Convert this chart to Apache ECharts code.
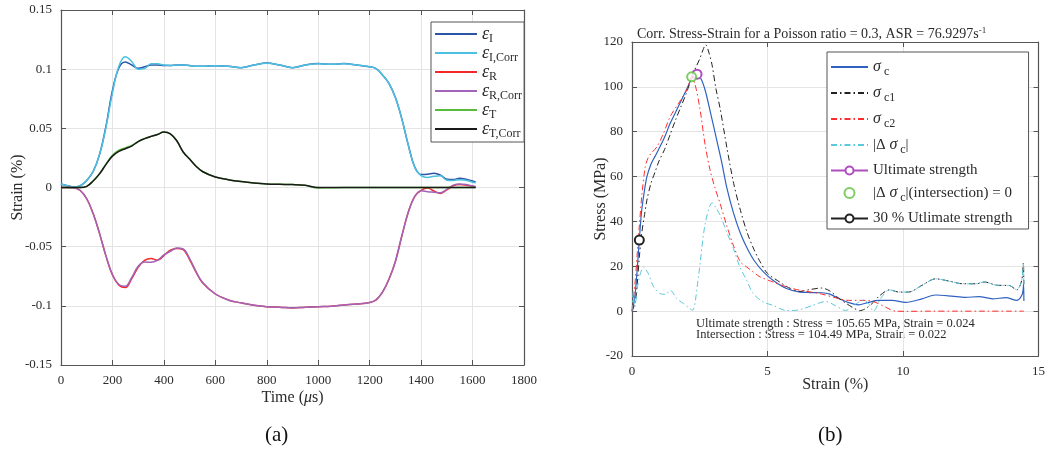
<!DOCTYPE html>
<html>
<head>
<meta charset="utf-8">
<script src="https://cdn.jsdelivr.net/npm/echarts@6/dist/echarts.min.js"></script>
<style>
  html, body { margin: 0; padding: 0; background: #fff; }
  #chart { width: 1048px; height: 453px; }
</style>
</head>
<body>
<div id="chart"></div>
<script>
// ---------- (a) incident / reflected / transmitted strain pulses ----------
const timeUs = [0,25,50,75,100,125,150,175,200,225,250,275,300,325,350,375,400,425,450,475,
  500,525,550,600,650,700,750,800,850,900,950,1000,1050,1100,1150,1200,
  1225,1250,1275,1300,1325,1350,1375,1400,1425,1450,1475,1500,1525,1550,1575,1600,1612];

const epsI = [0.0030,0.0015,0.0004,0.0015,0.0060,0.0135,0.0280,0.0520,0.0820,0.1010,
  0.1060,0.1035,0.1008,0.1020,0.1035,0.1035,0.1030,0.1030,0.1035,0.1035,
  0.1030,0.1025,0.1025,0.1028,0.1025,0.1013,0.1035,0.1052,0.1035,0.1013,0.1035,0.1047,0.1042,
  0.1047,0.1035,0.1020,
  0.1005,0.0950,0.0880,0.0760,0.0580,0.0360,0.0175,0.0110,
  0.0112,0.0120,0.0105,0.0070,0.0068,0.0078,0.0070,0.0055,0.0045];

const epsICorr = [0.0030,0.0015,0.0004,0.0015,0.0060,0.0135,0.0280,0.0510,0.0800,0.1025,
  0.1105,0.1065,0.1000,0.1005,0.1045,0.1045,0.1035,0.1032,0.1035,0.1035,
  0.1030,0.1025,0.1025,0.1028,0.1025,0.1013,0.1035,0.1050,0.1035,0.1013,0.1035,0.1046,0.1042,
  0.1046,0.1035,0.1020,
  0.1005,0.0950,0.0880,0.0760,0.0580,0.0360,0.0170,0.0100,
  0.0085,0.0095,0.0100,0.0062,0.0060,0.0066,0.0062,0.0045,0.0040];

const epsR = [0,0,-0.0003,-0.0025,-0.0095,-0.0220,-0.0390,-0.0580,-0.0740,-0.0825,
  -0.0845,-0.0770,-0.0675,-0.0615,-0.0600,-0.0615,-0.0575,-0.0530,-0.0515,-0.0525,
  -0.0610,-0.0715,-0.0805,-0.0900,-0.0950,-0.0975,-0.0995,-0.1007,-0.1012,-0.1018,-0.1012,-0.1007,-0.1003,
  -0.0993,-0.0985,-0.0972,
  -0.0950,-0.0885,-0.0775,-0.0625,-0.0410,-0.0210,-0.0075,-0.0025,
  -0.0005,-0.0030,-0.0050,-0.0020,0.0015,0.0025,0.0020,0.0010,0.0008];

const epsRCorr = [0,0,-0.0003,-0.0025,-0.0095,-0.0220,-0.0390,-0.0580,-0.0735,-0.0820,
  -0.0835,-0.0760,-0.0665,-0.0630,-0.0632,-0.0615,-0.0570,-0.0540,-0.0512,-0.0520,
  -0.0600,-0.0710,-0.0800,-0.0900,-0.0950,-0.0975,-0.0995,-0.1007,-0.1012,-0.1018,-0.1012,-0.1007,-0.1003,
  -0.0993,-0.0985,-0.0972,
  -0.0950,-0.0885,-0.0775,-0.0625,-0.0410,-0.0210,-0.0078,-0.0028,
  -0.0035,-0.0040,-0.0045,-0.0015,0.0020,0.0030,0.0025,0.0012,0.0005];

const epsT = [0,0,0,0,0.0010,0.0055,0.0118,0.0198,0.0272,0.0315,
  0.0335,0.0355,0.0388,0.0413,0.0432,0.0448,0.0468,0.0454,0.0395,0.0300,
  0.0240,0.0180,0.0135,0.0088,0.0066,0.0050,0.0038,0.0030,0.0027,0.0025,0.0018,-0.0004,-0.0002,
  0,0,0, 0,0,0,0,0,0,0,0, 0,0,0,0,0,0,0,0,0];

const epsTCorr = [0,0,0,0,0.0010,0.0055,0.0115,0.0195,0.0265,0.0305,
  0.0328,0.0350,0.0388,0.0413,0.0432,0.0448,0.0468,0.0454,0.0395,0.0300,
  0.0240,0.0180,0.0135,0.0088,0.0066,0.0050,0.0038,0.0030,0.0027,0.0025,0.0018,0.0000,-0.0001,
  0,0,0, 0,0,0,0,0,0,0,0, 0,0,0,0,0,0,0,0,0];

// ---------- (b) corrected stress-strain curves ----------
const strainC = [0,0.06,0.12,0.2,0.27,0.35,0.45,0.55,0.7,0.85,1.0,1.2,1.4,1.6,1.8,2.0,2.2,2.4,2.55,2.7,2.85,
  3.0,3.15,3.3,3.5,3.75,4.0,4.25,4.5,4.85,5.2,5.7,6.2,6.6,7.0,7.3,7.65,8.0,8.35,8.7,9.1,9.6,10.1,10.7,
  11.2,11.8,12.3,12.8,13.3,13.8,14.2,14.4,14.45,14.46];
const stressC = [0,3,8,20,31.7,44,53,60,65.5,69,72.5,77.5,83.5,88.5,93.5,98.5,103.5,105.65,103.5,98.5,91,
  83,75,67,55,43.6,34.7,28,22.7,17.5,13.8,10.1,8.5,8.3,8.2,7.6,5.5,3.8,2.8,3.8,4.8,4.8,3.9,5.5,
  7.2,6.7,6.1,6.5,5.5,6.0,4.8,7.5,12,4.5];

const strainC1 = [0,0.12,0.2,0.27,0.35,0.45,0.55,0.7,0.85,1.0,1.2,1.4,1.6,1.8,2.0,2.2,2.35,2.5,2.62,2.72,2.82,
  2.95,3.1,3.25,3.5,3.75,4.0,4.25,4.5,4.75,5.0,5.45,5.85,6.2,6.55,7.0,7.3,7.6,7.9,8.15,8.4,8.6,8.85,9.15,
  9.5,9.85,10.2,10.7,11.2,11.7,12.2,12.7,13.0,13.5,13.9,14.2,14.38,14.44,14.46];
const stressC1 = [0,4,13,24,34,42,49.5,57,62,67,72,78.5,85,91,97,104,108.5,112.5,116.5,118.8,116,
  110,99,90.5,73,57,45,35,27.5,21.5,16.8,13,10,8.8,9.6,10.3,9.0,6.0,3.5,1.6,0.2,1.0,3.3,7.0,
  9.5,8.5,8.5,11.5,14.4,13.4,12.2,12.2,13,11.5,11.5,9.5,13.7,21.4,12];

const strainC2 = [0,0.12,0.2,0.27,0.37,0.49,0.6,0.7,0.92,1.16,1.41,1.72,2.02,2.2,2.33,2.51,2.7,2.88,3.06,
  3.25,3.49,3.75,4.0,4.23,4.47,4.72,5.2,5.7,6.2,6.9,7.5,8.0,8.6,8.97,9.35,9.72,10.1,11,12,13,14,14.46];
const stressC2 = [0,13.8,27,38,52.5,64.4,68.5,70.3,73.3,79.2,86.8,92.7,98.6,104.49,101,90,74,63,55,
  48,38.4,29,22,19.7,17.5,15.3,13,10.8,9.3,7.9,6,4.8,4.8,4,1.8,0,-0.1,0,0,0,0,0];

const strainDiff = [0,0.05,0.1,0.25,0.43,0.6,0.8,1.04,1.25,1.41,1.65,1.9,2.14,2.24,2.45,2.7,2.96,3.1,3.25,
  3.49,3.74,3.98,4.23,4.47,4.84,5.2,5.7,5.95,6.3,6.65,7.15,7.5,7.88,8.24,8.55,8.73,8.91,9.17,9.5,9.85,
  10.2,10.7,11.2,11.7,12.2,12.7,13.0,13.5,13.9,14.2,14.38,14.44,14.46];
const stressDiff = [0,9,2,14,19.7,16.8,10.8,7.8,7.5,9.3,5.6,3.4,1.1,0.4,15.2,39,48.3,46,42.8,
  35.4,28,19.7,13.8,7.9,4.1,2.6,0.3,0.3,1,2.5,4.3,2.5,0.3,3,5,3.3,0,5.5,9.5,8.5,
  8.5,11.5,14.4,13.4,12.2,12.2,13,11.5,11.5,9.5,13.7,21.4,12];

const ultimatePt = [2.4, 105.65];     // strain (%), stress (MPa)
const intersectPt = [2.2, 104.49];
const thirtyPt = [0.27, 31.7];

const titleB = 'Corr. Stress-Strain for a Poisson ratio = 0.3, ASR = 76.9297s';

// ---------- helpers ----------
const FONT = "'Liberation Serif', 'DejaVu Serif', serif";
const INK = '#2b2b2b';
const zip = (xs, ys) => xs.map((x, i) => [x, ys[i]]);

function boxAxes(grid, xr, yr, xName, yName, xGap, yGap, xRich) {
  const tick = { show: true, inside: true, length: 5, lineStyle: { color: '#555', width: 1 } };
  const line = { show: true, onZero: false, lineStyle: { color: '#555', width: 1.2 } };
  const lbl = { color: INK, fontFamily: FONT, fontSize: 13 };
  const nameStyle = { color: INK, fontFamily: FONT, fontSize: 16, rich: xRich || {} };
  const split = { show: true, lineStyle: { color: '#e4e4e4', width: 1 } };
  const fmt = v => String(+v.toFixed(3));
  return {
    x: [
      { type: 'value', gridIndex: grid, min: xr[0], max: xr[1], interval: xr[2], position: 'bottom',
        axisLine: line, axisTick: tick, splitLine: split,
        axisLabel: Object.assign({ margin: 9, formatter: fmt }, lbl),
        name: xName, nameLocation: 'middle', nameGap: xGap, nameMoveOverlap: false, nameTextStyle: nameStyle },
      { type: 'value', gridIndex: grid, min: xr[0], max: xr[1], interval: xr[2], position: 'top',
        axisLine: line, axisTick: tick, splitLine: { show: false }, axisLabel: { show: false } }
    ],
    y: [
      { type: 'value', gridIndex: grid, min: yr[0], max: yr[1], interval: yr[2], position: 'left',
        axisLine: line, axisTick: tick, splitLine: split,
        axisLabel: Object.assign({ margin: 9, formatter: fmt }, lbl),
        name: yName, nameLocation: 'middle', nameGap: yGap, nameRotate: 90, nameMoveOverlap: false,
        nameTextStyle: { color: INK, fontFamily: FONT, fontSize: 16 } },
      { type: 'value', gridIndex: grid, min: yr[0], max: yr[1], interval: yr[2], position: 'right',
        axisLine: line, axisTick: tick, splitLine: { show: false }, axisLabel: { show: false } }
    ]
  };
}

const axA = boxAxes(0, [0, 1800, 200], [-0.15, 0.15, 0.05],
  '{n|Time (}{i|μ}{n|s)}', 'Strain (%)', 25, 35,
  { n: { fontFamily: FONT, fontSize: 16, color: INK }, i: { fontFamily: FONT, fontSize: 16, fontStyle: 'italic', color: INK } });
const axB = boxAxes(1, [0, 15, 5], [-20, 120, 20], 'Strain (%)', 'Stress (MPa)', 21, 23);

function lineA(name, data, color) {
  return { name, type: 'line', xAxisIndex: 0, yAxisIndex: 0, data: zip(timeUs, data),
    smooth: 0.4, symbol: 'none', lineStyle: { color, width: 1.5 }, itemStyle: { color } };
}
const DASHDOT = [6, 3, 1.5, 3];
function lineB(name, xs, ys, color, dashed, width) {
  return { name, type: 'line', xAxisIndex: 2, yAxisIndex: 2, data: zip(xs, ys),
    smooth: 0.3, symbol: 'none',
    lineStyle: { color, width: width || 1, type: dashed ? DASHDOT : 'solid' }, itemStyle: { color } };
}
function markerB(name, pt, color, withLine) {
  return { name, type: withLine ? 'line' : 'scatter', xAxisIndex: 2, yAxisIndex: 2, data: [pt],
    symbol: 'emptyCircle', symbolSize: 9, z: 5,
    lineStyle: { color, width: 1 }, itemStyle: { color, borderColor: color, borderWidth: 1.2 } };
}

const legendLabelA = {
  'ε_I': '{e|ε}{s|I}', 'ε_I,Corr': '{e|ε}{s|I,Corr}', 'ε_R': '{e|ε}{s|R}',
  'ε_R,Corr': '{e|ε}{s|R,Corr}', 'ε_T': '{e|ε}{s|T}', 'ε_T,Corr': '{e|ε}{s|T,Corr}'
};
const legendLabelB = {
  'σ_c': '{g|σ}{s|c}', 'σ_c1': '{g|σ}{s|c1}', 'σ_c2': '{g|σ}{s|c2}',
  '|Δσ_c|': '{n||Δ }{g|σ}{s|c}{n||}',
  'Ultimate strength': '{n|Ultimate strength}',
  '|Δσ_c|(intersection) = 0': '{n||Δ }{g|σ}{s|c}{n||(intersection) = 0}',
  '30 % Utlimate strength': '{n|30 % Utlimate strength}'
};
// plain curves show only their line in the legend
const lineOnly = { itemStyle: { opacity: 0 } };
const legendDataA = Object.keys(legendLabelA).map(name => Object.assign({ name }, lineOnly));
const legendDataB = Object.keys(legendLabelB).map((name, i) => i < 4 ? Object.assign({ name }, lineOnly) : { name });

const annoLines = [
  `Ultimate strength : Stress = ${ultimatePt[1].toFixed(2)} MPa, Strain = ${+(ultimatePt[0] / 100).toFixed(3)}`,
  `Intersection : Stress = ${intersectPt[1].toFixed(2)} MPa, Strain = ${+(intersectPt[0] / 100).toFixed(3)}`
];

const chart = echarts.init(document.getElementById('chart'), null, { renderer: 'canvas' });
chart.setOption({
  animation: false,
  backgroundColor: '#fff',
  title: {
    left: 632, top: 21,
    text: `{t|${titleB}}{p|-1}`,
    textStyle: { fontWeight: 'normal', rich: {
      t: { fontFamily: FONT, fontSize: 14, fontWeight: 'normal', color: INK },
      p: { fontFamily: FONT, fontSize: 9, fontWeight: 'normal', color: INK, verticalAlign: 'top', padding: [0, 0, 8, 0] }
    } }
  },
  grid: [
    { left: 61, top: 10, width: 463, height: 355 },
    { left: 632, top: 42, width: 409, height: 314 }
  ],
  xAxis: axA.x.concat(axB.x),
  yAxis: axA.y.concat(axB.y),
  legend: [
    {
      data: legendDataA, orient: 'vertical', left: 431, top: 22,
      selectedMode: false, itemWidth: 42, itemHeight: 10, itemGap: -1,
      backgroundColor: '#fff', borderColor: '#555', borderWidth: 1, borderRadius: 0,
      padding: [3, 2, 2, 3],
      formatter: n => legendLabelA[n],
      textStyle: { rich: {
        e: { fontFamily: FONT, fontStyle: 'italic', fontSize: 18, color: INK },
        s: { fontFamily: FONT, fontSize: 12, color: INK, padding: [10, 0, 0, 0] }
      } }
    },
    {
      data: legendDataB, orient: 'vertical', left: 827, top: 52,
      selectedMode: false, itemWidth: 37, itemHeight: 10, itemGap: 7,
      backgroundColor: '#fff', borderColor: '#555', borderWidth: 1, borderRadius: 0,
      padding: [7, 16, 3, 3],
      formatter: n => legendLabelB[n],
      textStyle: { rich: {
        g: { fontFamily: FONT, fontStyle: 'italic', fontSize: 16, color: INK },
        s: { fontFamily: FONT, fontSize: 12, color: INK, padding: [10, 0, 0, 3] },
        n: { fontFamily: FONT, fontSize: 15, color: INK }
      } }
    }
  ],
  graphic: [
    { type: 'text', left: 696, top: 317, style: { text: annoLines[0], font: `12.5px ${FONT}`, fill: INK } },
    { type: 'text', left: 696, top: 328, style: { text: annoLines[1], font: `12.5px ${FONT}`, fill: INK } },
    { type: 'text', left: 265, top: 425, style: { text: '(a)', font: `21px ${FONT}`, fill: '#111' } },
    { type: 'text', left: 818, top: 425, style: { text: '(b)', font: `21px ${FONT}`, fill: '#111' } }
  ],
  series: [
    lineA('ε_I', epsI, '#2c55a8'),
    lineA('ε_I,Corr', epsICorr, '#4cc0e0'),
    lineA('ε_R', epsR, '#f42a2a'),
    lineA('ε_R,Corr', epsRCorr, '#a064b8'),
    lineA('ε_T', epsT, '#58bb3c'),
    lineA('ε_T,Corr', epsTCorr, '#1a1a1a'),
    lineB('σ_c', strainC, stressC, '#2f62c0', false, 1.2),
    lineB('σ_c1', strainC1, stressC1, '#222222', true),
    lineB('σ_c2', strainC2, stressC2, '#ff2e2e', true),
    lineB('|Δσ_c|', strainDiff, stressDiff, '#5cc8dc', true),
    markerB('Ultimate strength', ultimatePt, '#b04ec0', true),
    markerB('|Δσ_c|(intersection) = 0', intersectPt, '#5cc038', false),
    markerB('30 % Utlimate strength', thirtyPt, '#222222', true)
  ]
});
</script>
</body>
</html>
